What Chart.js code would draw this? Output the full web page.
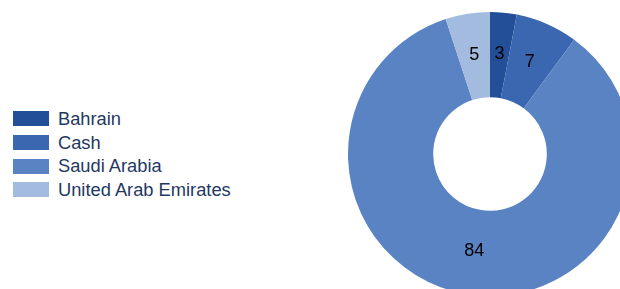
<!DOCTYPE html>
<html>
<head>
<meta charset="utf-8">
<script src="https://cdn.jsdelivr.net/npm/chart.js@4"></script>
<style>
  html, body { margin: 0; padding: 0; width: 620px; height: 289px; overflow: hidden; background: #fff; }
  #wrap { position: absolute; left: 348px; top: 12px; width: 284px; height: 284px; }
  #legend { position: absolute; left: 13px; top: 107px; font-family: "Liberation Sans", Arial, sans-serif; font-size: 18.3px; color: #1F3864; }
  #legend div { height: 23.7px; display: flex; align-items: center; }
  #legend span.box { display: inline-block; width: 36px; height: 15px; margin-right: 9px; }
</style>
</head>
<body>
<div id="legend"></div>
<div id="wrap"><canvas id="pie" width="284" height="284"></canvas></div>
<script>
const categories = ['Bahrain', 'Cash', 'Saudi Arabia', 'United Arab Emirates'];
const shares = [3, 7, 84, 5];
const colors = ['#234F99', '#3B66B0', '#5A83C3', '#A3BBDF'];

// étiquettes de valeur au milieu de chaque tranche
const sliceLabels = {
    id: 'sliceLabels',
    afterDatasetsDraw(chart) {
        const ctx = chart.ctx;
        const meta = chart.getDatasetMeta(0);
        ctx.save();
        ctx.fillStyle = '#000';
        ctx.font = '18px "Liberation Sans", Arial, sans-serif';
        ctx.textAlign = 'center';
        ctx.textBaseline = 'middle';
        meta.data.forEach((arc, i) => {
            const p = arc.tooltipPosition();
            ctx.fillText(String(shares[i]), p.x, p.y - 1);
        });
        ctx.restore();
    }
};

new Chart(document.getElementById('pie'), {
    type: 'doughnut',
    data: {
        labels: categories,
        datasets: [{ data: shares, backgroundColor: colors, borderWidth: 0 }]
    },
    options: {
        responsive: false,
        animation: false,
        cutout: '40%',
        layout: { padding: 0 },
        plugins: { legend: { display: false }, tooltip: { enabled: false } }
    },
    plugins: [sliceLabels]
});

const legend = document.getElementById('legend');
categories.forEach((name, i) => {
    const row = document.createElement('div');
    const box = document.createElement('span');
    box.className = 'box';
    box.style.background = colors[i];
    row.appendChild(box);
    row.appendChild(document.createTextNode(name));
    legend.appendChild(row);
});
</script>
</body>
</html>
